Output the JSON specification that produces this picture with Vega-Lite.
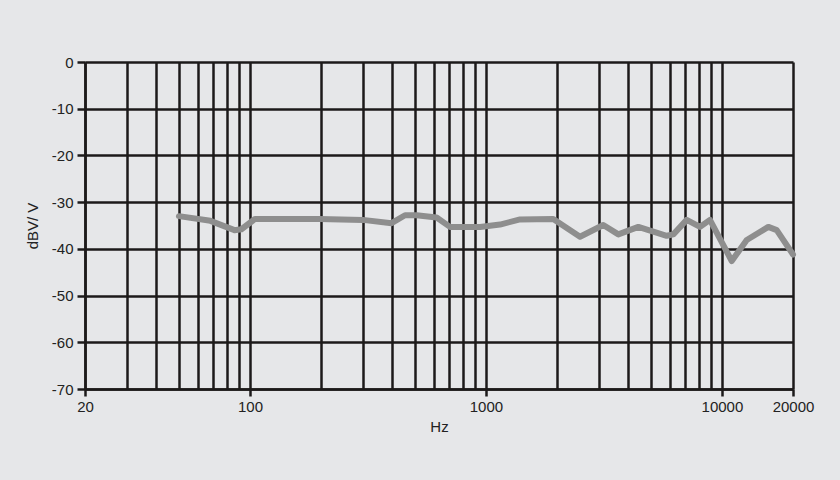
{
  "$schema": "https://vega.github.io/schema/vega-lite/v6.json",
  "width": 708,
  "height": 327,
  "autosize": {"type": "none"},
  "padding": {"left": 85, "top": 62, "right": 47, "bottom": 91},
  "background": "#e6e7e9",
  "config": {
    "view": {"stroke": null},
    "font": "Liberation Sans",
    "axis": {
      "labelFont": "Liberation Sans",
      "titleFont": "Liberation Sans",
      "labelFontSize": 15,
      "titleFontSize": 15,
      "titleFontWeight": "normal",
      "labelColor": "#222222",
      "titleColor": "#222222",
      "gridColor": "#1c1a1a",
      "gridWidth": 2.5,
      "gridOpacity": 1,
      "domainColor": "#1c1a1a",
      "domainWidth": 2.5,
      "tickColor": "#1c1a1a",
      "tickWidth": 2.5
    }
  },
  "data": {
    "values": [
      {"hz": 50, "db": -33.0},
      {"hz": 68, "db": -34.0},
      {"hz": 86, "db": -36.0},
      {"hz": 92, "db": -35.8},
      {"hz": 105, "db": -33.6},
      {"hz": 197, "db": -33.6},
      {"hz": 301, "db": -33.8},
      {"hz": 398, "db": -34.5},
      {"hz": 454, "db": -32.8},
      {"hz": 508, "db": -32.8},
      {"hz": 618, "db": -33.3},
      {"hz": 704, "db": -35.3},
      {"hz": 944, "db": -35.3},
      {"hz": 1147, "db": -34.8},
      {"hz": 1394, "db": -33.7},
      {"hz": 1928, "db": -33.6},
      {"hz": 2503, "db": -37.4},
      {"hz": 3141, "db": -34.9},
      {"hz": 3639, "db": -36.9},
      {"hz": 4423, "db": -35.3},
      {"hz": 5833, "db": -37.2},
      {"hz": 6222, "db": -36.9},
      {"hz": 7089, "db": -33.8},
      {"hz": 8075, "db": -35.3},
      {"hz": 8894, "db": -33.8},
      {"hz": 11000, "db": -42.6},
      {"hz": 12736, "db": -38.1},
      {"hz": 15719, "db": -35.3},
      {"hz": 17063, "db": -36.0},
      {"hz": 20000, "db": -41.2}
    ]
  },
  "mark": {"type": "line", "color": "#8e8e8e", "strokeWidth": 6, "strokeJoin": "round", "strokeCap": "round"},
  "encoding": {
    "x": {
      "field": "hz",
      "type": "quantitative",
      "scale": {"type": "log", "domain": [20, 20000], "nice": false},
      "axis": {
        "title": "Hz",
        "titlePadding": 5,
        "values": [20, 30, 40, 50, 60, 70, 80, 90, 100, 200, 300, 400, 500, 600, 700, 800, 900, 1000, 2000, 3000, 4000, 5000, 6000, 7000, 8000, 9000, 10000, 20000],
        "labelExpr": "indexof([20, 100, 1000, 10000, 20000], datum.value) >= 0 ? '' + datum.value : ''",
        "tickSize": 7,
        "tickOpacity": {"condition": {"test": "indexof([20, 100, 1000, 10000, 20000], datum.value) >= 0", "value": 1}, "value": 0},
        "labelPadding": 3,
        "labelFlush": false,
        "labelOverlap": false
      }
    },
    "y": {
      "field": "db",
      "type": "quantitative",
      "scale": {"domain": [-70, 0], "nice": false},
      "axis": {
        "title": "dBV/ V",
        "values": [-70, -60, -50, -40, -30, -20, -10, 0],
        "labelExpr": "'' + datum.value",
        "tickSize": 8,
        "labelPadding": 4,
        "titlePadding": 11
      }
    }
  }
}
